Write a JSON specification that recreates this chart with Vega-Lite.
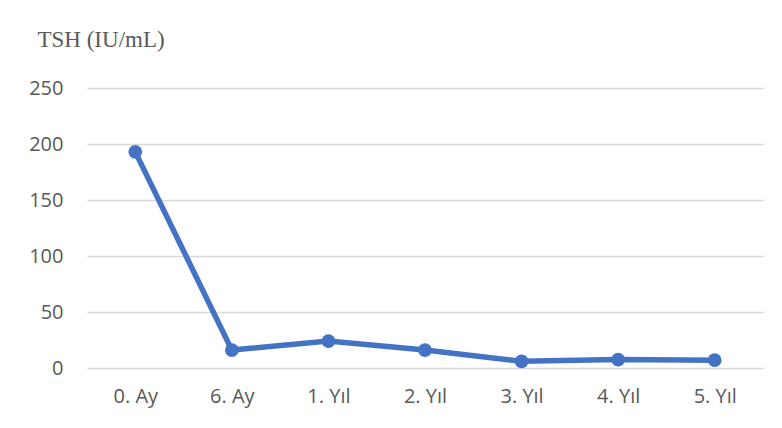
{
  "$schema": "https://vega.github.io/schema/vega-lite/v6.json",
  "autosize": "none",
  "width": 676,
  "height": 280,
  "padding": {"left": 87, "top": 88, "right": 19, "bottom": 60},
  "background": "white",
  "config": {"view": {"stroke": null}},
  "data": {"values": [
    {"period": "0. Ay", "tsh": 193},
    {"period": "6. Ay", "tsh": 16},
    {"period": "1. Yıl", "tsh": 24},
    {"period": "2. Yıl", "tsh": 16},
    {"period": "3. Yıl", "tsh": 6},
    {"period": "4. Yıl", "tsh": 7.5},
    {"period": "5. Yıl", "tsh": 7}
  ]},
  "mark": {"type": "line", "color": "#4472C4", "strokeWidth": 5.5, "point": {"filled": true, "size": 190, "color": "#4472C4", "opacity": 1}},
  "encoding": {
    "x": {
      "field": "period", "type": "ordinal", "sort": null,
      "scale": {"type": "point", "padding": 0.5},
      "axis": {"title": null, "labelAngle": 0, "domain": false, "ticks": false, "grid": false,
        "labelFont": "Open Sans", "labelFontSize": 20, "labelColor": "#595959", "labelPadding": 18}
    },
    "y": {
      "field": "tsh", "type": "quantitative",
      "scale": {"domain": [0, 250], "nice": false},
      "axis": {"values": [0, 50, 100, 150, 200, 250], "domain": false, "ticks": false,
        "gridColor": "#D9D9D9", "gridWidth": 1.3,
        "labelFont": "Open Sans", "labelFontSize": 20, "labelColor": "#595959", "labelPadding": 24,
        "title": "TSH (IU/mL)", "titleAngle": 0, "titleAlign": "left", "titleBaseline": "alphabetic",
        "titleX": -50, "titleY": -42, "titleFont": "Liberation Serif", "titleFontSize": 23,
        "titleFontWeight": "normal", "titleColor": "#595959"}
    }
  }
}
